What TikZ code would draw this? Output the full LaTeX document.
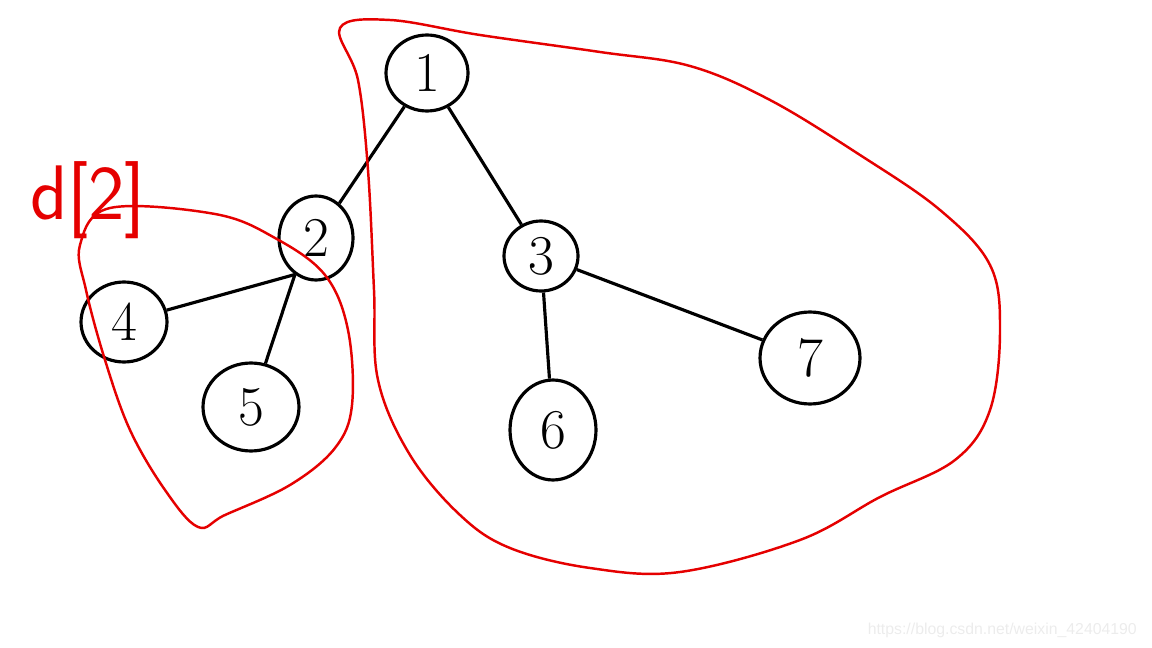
\documentclass[tikz,border=0pt]{standalone}
\usepackage{fontspec}
\newfontfamily\wmfont{Liberation Sans}
\usetikzlibrary{shapes.geometric}
\begin{document}
\begin{tikzpicture}[x=0.02cm,y=-0.02cm,
        vertex/.style={draw,ellipse,line width=1.8pt,inner sep=0pt,
            font=\fontsize{32}{32}\selectfont},
        tedge/.style={line width=1.8pt},
        loop/.style={red!90!black,line width=1.4pt}]
    \useasboundingbox (0,0) rectangle (1152,648);

    \node[vertex,minimum width=1.64cm,minimum height=1.52cm] (n1) at (427,73) {1};
    \node[vertex,minimum width=1.48cm,minimum height=1.68cm] (n2) at (316,238) {2};
    \node[vertex,minimum width=1.48cm,minimum height=1.40cm] (n3) at (541,256) {3};
    \node[vertex,minimum width=1.72cm,minimum height=1.60cm] (n4) at (124,322) {4};
    \node[vertex,minimum width=1.92cm,minimum height=1.76cm] (n5) at (251,407) {5};
    \node[vertex,minimum width=1.72cm,minimum height=2.00cm] (n6) at (553,430) {6};
    \node[vertex,minimum width=2.00cm,minimum height=1.84cm] (n7) at (810,358) {7};

    \draw[tedge] (n1) -- (n2);
    \draw[tedge] (n1) -- (n3);
    \draw[tedge] (n2.240) -- (n4);
    \draw[tedge] (n2.240) -- (n5);
    \draw[tedge] (n3) -- (n6);
    \draw[tedge] (n3) -- (n7);

    % subtree of 1 (without 2)
    \draw[loop] plot[smooth cycle,tension=0.6] coordinates {
        (340,28) (390,20) (480,35) (600,52) (690,66) (770,100)
        (860,155) (940,210) (990,265) (1000,330) (990,410)
        (955,460) (880,497) (800,540) (680,572) (590,568)
        (510,548) (460,515) (410,455) (378,380) (374,290)
        (368,170) (358,80)};
    % subtree of 2
    \draw[loop] plot[smooth cycle,tension=0.6] coordinates {
        (110,208) (215,214) (275,238) (325,275) (348,330)
        (352,405) (335,448) (290,485) (225,515) (198,527)
        (165,490) (130,430) (105,360) (86,290) (80,245)};

    \node[red!90!black,font=\fontsize{44}{44}\selectfont\sffamily] (lab) at (88,200) {d[2]};

    \node[gray!15,anchor=east,font=\wmfont\fontsize{9}{9}\selectfont] (wm) at (1143,630)
        {https://blog.csdn.net/weixin\_42404190};
\end{tikzpicture}
\end{document}
